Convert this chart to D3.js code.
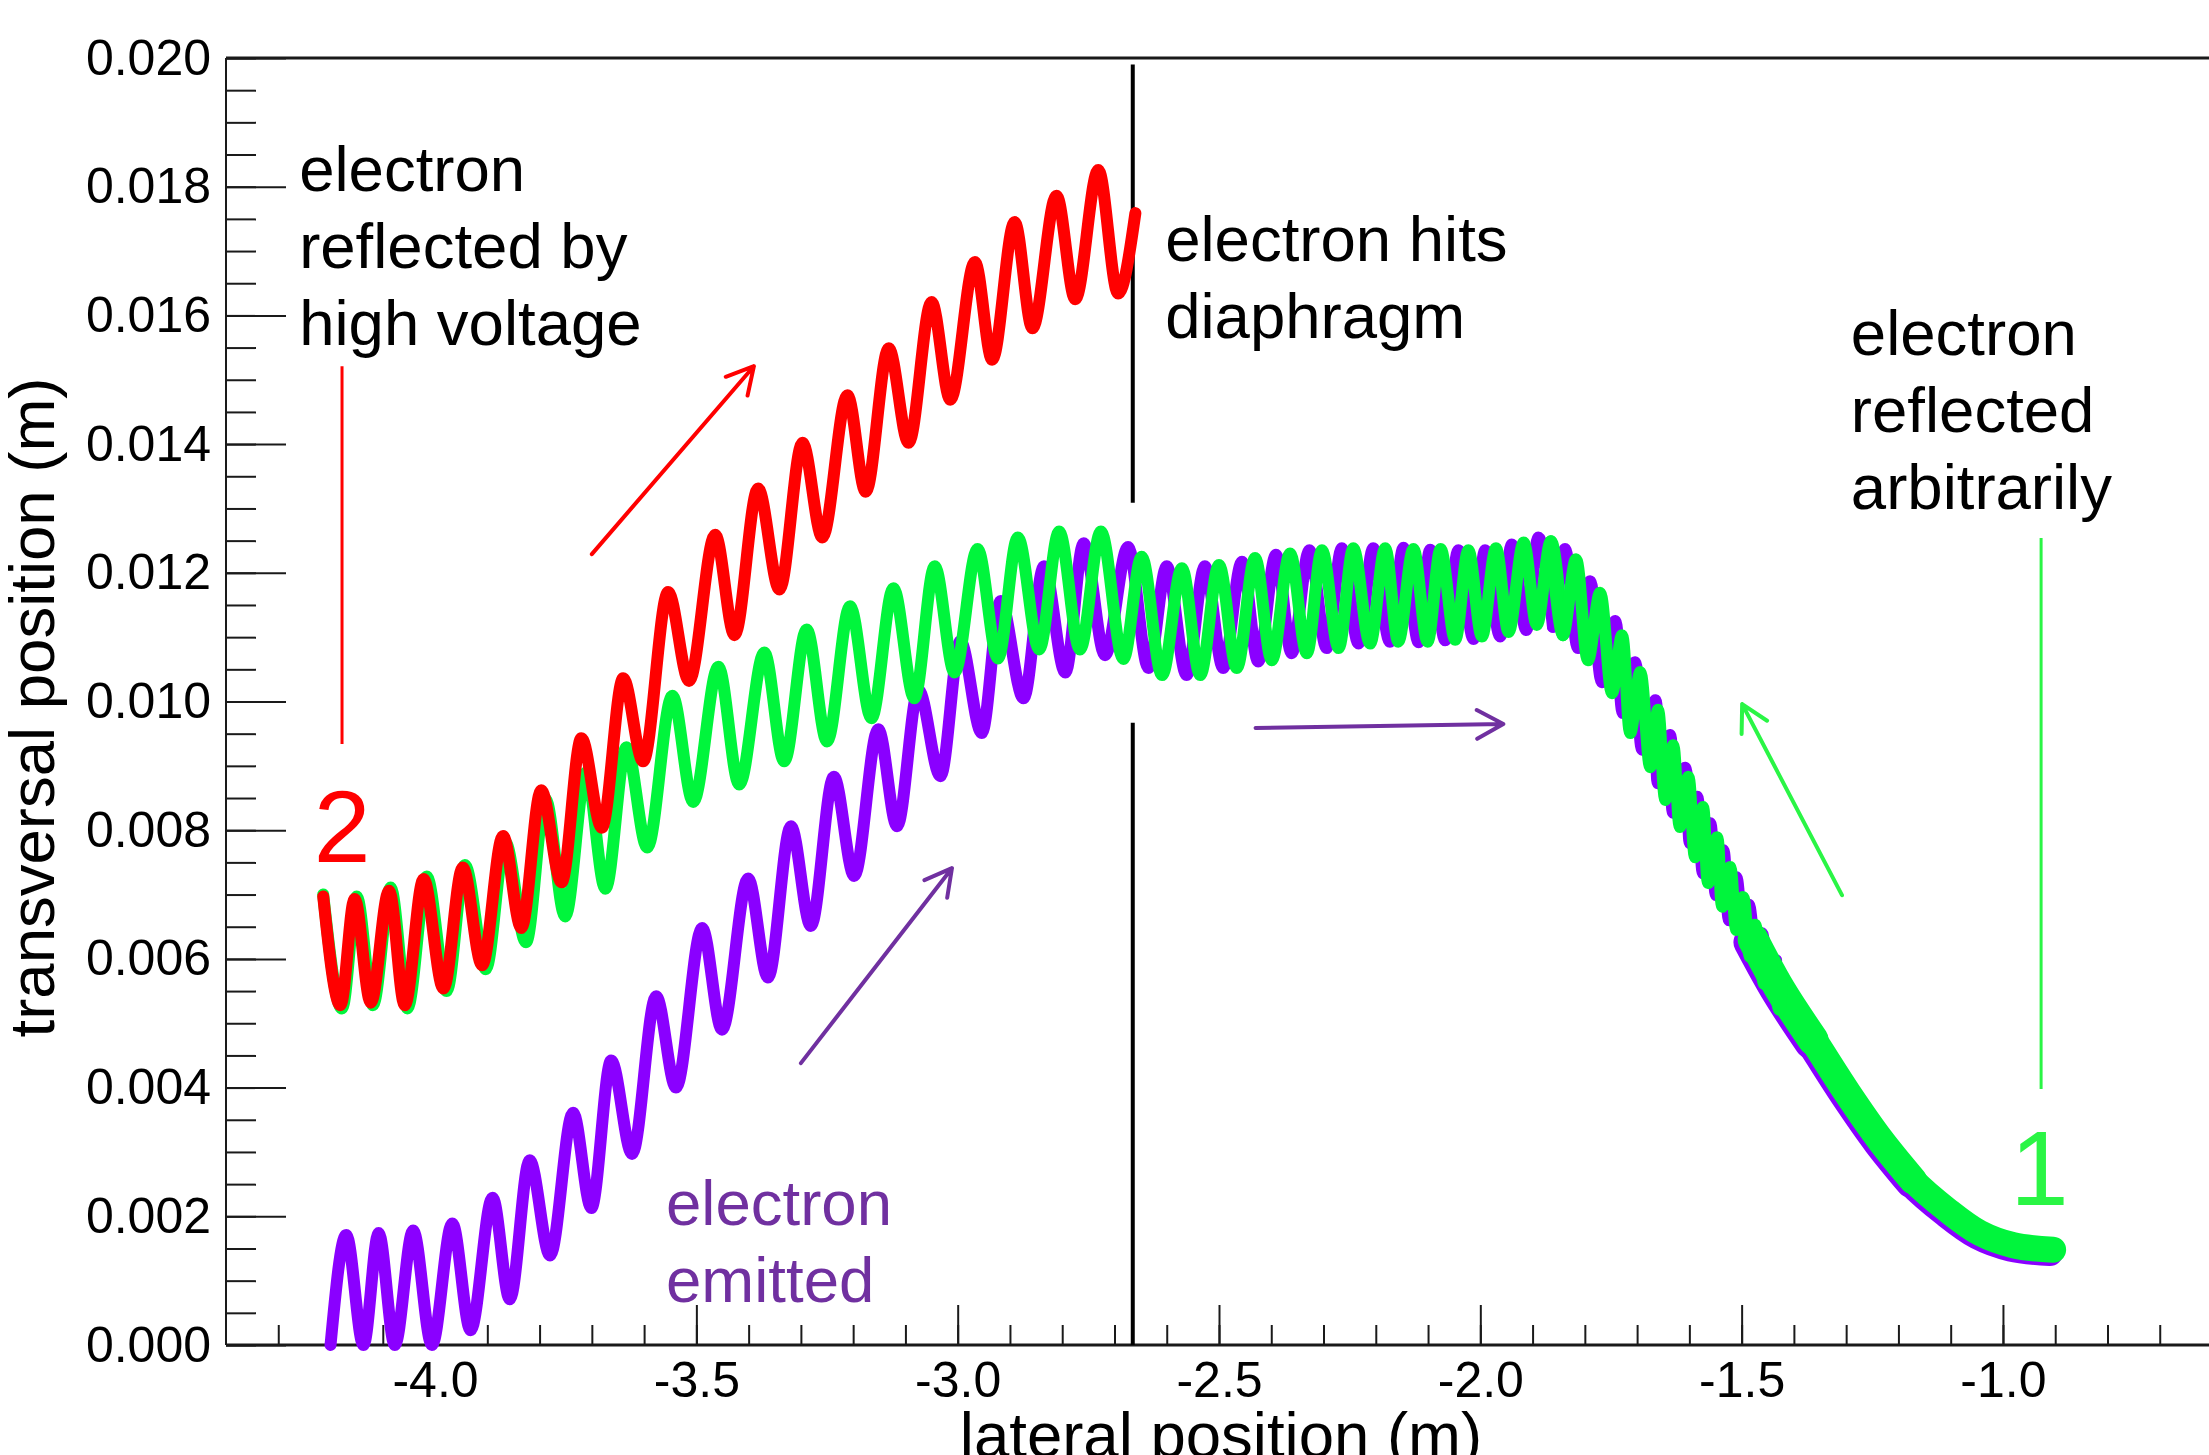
<!DOCTYPE html>
<html>
<head>
<meta charset="utf-8">
<script src="https://cdn.jsdelivr.net/npm/d3@7"></script>
<style>
  body { margin: 0; background: #fff; }
  text { font-family: "Liberation Sans", Arial, sans-serif; }
</style>
</head>
<body>
<div id="chart"></div>
<script>
// trajectory points [lateral position (m), transversal position (m)]
var emitted = [
  [-4.200, 0.00000], [-4.170, 0.00171], [-4.137, 0.00000], [-4.108, 0.00174], [-4.077, 0.00000],
  [-4.042, 0.00178], [-4.006, 0.00000], [-3.967, 0.00189], [-3.932, 0.00023], [-3.890, 0.00229],
  [-3.857, 0.00071], [-3.819, 0.00287], [-3.780, 0.00139], [-3.736, 0.00361], [-3.701, 0.00213],
  [-3.663, 0.00442], [-3.623, 0.00297], [-3.577, 0.00542], [-3.539, 0.00400], [-3.489, 0.00648],
  [-3.451, 0.00490], [-3.401, 0.00725], [-3.363, 0.00571], [-3.319, 0.00806], [-3.281, 0.00651],
  [-3.237, 0.00883], [-3.198, 0.00729], [-3.152, 0.00957], [-3.116, 0.00806], [-3.075, 0.01018],
  [-3.033, 0.00884], [-2.995, 0.01094], [-2.954, 0.00951], [-2.918, 0.01156], [-2.874, 0.01005],
  [-2.835, 0.01210], [-2.794, 0.01045], [-2.759, 0.01246], [-2.718, 0.01072], [-2.674, 0.01240],
  [-2.635, 0.01052], [-2.600, 0.01210], [-2.562, 0.01041], [-2.527, 0.01210], [-2.492, 0.01052],
  [-2.456, 0.01217], [-2.425, 0.01062], [-2.391, 0.01228], [-2.361, 0.01075], [-2.327, 0.01235],
  [-2.294, 0.01083], [-2.265, 0.01238], [-2.233, 0.01090], [-2.205, 0.01238], [-2.173, 0.01093],
  [-2.147, 0.01239], [-2.118, 0.01092], [-2.096, 0.01236], [-2.067, 0.01095], [-2.042, 0.01235],
  [-2.013, 0.01097], [-1.991, 0.01235], [-1.962, 0.01101], [-1.940, 0.01244], [-1.912, 0.01111],
  [-1.889, 0.01255], [-1.861, 0.01116], [-1.838, 0.01237], [-1.813, 0.01083], [-1.790, 0.01187],
  [-1.767, 0.01030], [-1.742, 0.01125], [-1.727, 0.00982], [-1.704, 0.01061], [-1.690, 0.00925],
  [-1.665, 0.01002], [-1.660, 0.00873], [-1.637, 0.00948], [-1.631, 0.00827], [-1.608, 0.00897],
  [-1.599, 0.00780], [-1.585, 0.00852], [-1.574, 0.00733], [-1.560, 0.00811], [-1.549, 0.00699],
  [-1.535, 0.00769], [-1.524, 0.00660], [-1.510, 0.00727], [-1.497, 0.00620], [-1.486, 0.00684],
  [-1.470, 0.00580], [-1.461, 0.00640], [-1.444, 0.00539], [-1.434, 0.00598]
];
var emittedTail = [
  [-1.486, 0.00626], [-1.432, 0.00547], [-1.369, 0.00469], [-1.304, 0.00387], [-1.241, 0.00314],
  [-1.178, 0.00251], [-1.113, 0.00205], [-1.050, 0.00169], [-0.986, 0.00150], [-0.910, 0.00143]
];

var reflected = [
  [-4.214, 0.00700], [-4.178, 0.00523], [-4.150, 0.00697], [-4.119, 0.00528], [-4.085, 0.00711],
  [-4.053, 0.00523], [-4.016, 0.00728], [-3.978, 0.00550], [-3.943, 0.00746], [-3.903, 0.00584],
  [-3.866, 0.00782], [-3.826, 0.00626], [-3.789, 0.00849], [-3.751, 0.00666], [-3.711, 0.00890],
  [-3.674, 0.00709], [-3.634, 0.00929], [-3.594, 0.00773], [-3.546, 0.01009], [-3.506, 0.00844],
  [-3.458, 0.01054], [-3.418, 0.00871], [-3.370, 0.01076], [-3.332, 0.00907], [-3.289, 0.01112],
  [-3.250, 0.00938], [-3.206, 0.01148], [-3.165, 0.00974], [-3.123, 0.01176], [-3.083, 0.01005],
  [-3.044, 0.01210], [-3.006, 0.01045], [-2.962, 0.01237], [-2.923, 0.01067], [-2.885, 0.01255],
  [-2.844, 0.01081], [-2.806, 0.01264], [-2.766, 0.01081], [-2.726, 0.01264], [-2.683, 0.01066],
  [-2.648, 0.01225], [-2.609, 0.01041], [-2.571, 0.01207], [-2.536, 0.01041], [-2.500, 0.01212],
  [-2.466, 0.01052], [-2.431, 0.01223], [-2.399, 0.01064], [-2.364, 0.01230], [-2.332, 0.01075],
  [-2.303, 0.01235], [-2.271, 0.01083], [-2.243, 0.01238], [-2.211, 0.01090], [-2.182, 0.01238],
  [-2.157, 0.01093], [-2.128, 0.01237], [-2.101, 0.01093], [-2.076, 0.01237], [-2.048, 0.01096],
  [-2.023, 0.01235], [-1.997, 0.01101], [-1.970, 0.01238], [-1.946, 0.01108], [-1.917, 0.01247],
  [-1.892, 0.01119], [-1.865, 0.01249], [-1.842, 0.01103], [-1.817, 0.01221], [-1.794, 0.01064],
  [-1.771, 0.01169], [-1.748, 0.01013], [-1.729, 0.01103], [-1.713, 0.00951], [-1.694, 0.01046],
  [-1.675, 0.00898], [-1.660, 0.00987], [-1.646, 0.00847], [-1.631, 0.00932], [-1.618, 0.00805],
  [-1.602, 0.00883], [-1.589, 0.00758], [-1.574, 0.00836], [-1.564, 0.00718], [-1.547, 0.00789],
  [-1.537, 0.00681], [-1.522, 0.00743], [-1.510, 0.00645], [-1.497, 0.00696], [-1.484, 0.00603],
  [-1.474, 0.00653], [-1.457, 0.00561], [-1.449, 0.00609], [-1.428, 0.00521], [-1.423, 0.00567]
];
var reflectedTail = [
  [-1.478, 0.00630], [-1.426, 0.00552], [-1.363, 0.00474], [-1.298, 0.00392], [-1.235, 0.00319],
  [-1.172, 0.00256], [-1.107, 0.00210], [-1.044, 0.00174], [-0.980, 0.00155], [-0.904, 0.00148]
];

var highVoltage = [
  [-4.214, 0.00697], [-4.181, 0.00528], [-4.154, 0.00693], [-4.123, 0.00532], [-4.088, 0.00706],
  [-4.058, 0.00528], [-4.022, 0.00724], [-3.984, 0.00554], [-3.947, 0.00742], [-3.910, 0.00590],
  [-3.870, 0.00791], [-3.835, 0.00648], [-3.797, 0.00862], [-3.758, 0.00719], [-3.720, 0.00943],
  [-3.681, 0.00804], [-3.640, 0.01036], [-3.602, 0.00907], [-3.554, 0.01170], [-3.514, 0.01032],
  [-3.464, 0.01259], [-3.427, 0.01103], [-3.382, 0.01331], [-3.341, 0.01174], [-3.297, 0.01402],
  [-3.259, 0.01255], [-3.211, 0.01476], [-3.176, 0.01326], [-3.132, 0.01549], [-3.094, 0.01402],
  [-3.050, 0.01621], [-3.014, 0.01469], [-2.967, 0.01683], [-2.934, 0.01531], [-2.891, 0.01745],
  [-2.857, 0.01580], [-2.811, 0.01786], [-2.775, 0.01625], [-2.731, 0.01826], [-2.693, 0.01634],
  [-2.660, 0.01759]
];

var xTicks = [-4.0, -3.5, -3.0, -2.5, -2.0, -1.5, -1.0];
var xTickLabels = ["-4.0", "-3.5", "-3.0", "-2.5", "-2.0", "-1.5", "-1.0"];
var yTicks = [0, 0.002, 0.004, 0.006, 0.008, 0.010, 0.012, 0.014, 0.016, 0.018, 0.020];
var yTickLabels = ["0.000", "0.002", "0.004", "0.006", "0.008", "0.010", "0.012", "0.014", "0.016", "0.018", "0.020"];

// diaphragm marker and annotation geometry, in data units
var diaphragmX = -2.665;
var diaphragmSpans = [[0.0199, 0.01309], [0.00967, 0.0]];
var redMarker = [[-4.178, 0.01521], [-4.178, 0.00934]];
var greenMarker = [[-0.927, 0.01254], [-0.927, 0.00398]];
var redArrow = [[-3.700, 0.01229], [-3.390, 0.01521]];
var emittedArrow = [[-3.300, 0.00438], [-3.011, 0.00741]];
var driftArrow = [[-2.430, 0.00959], [-1.956, 0.00965]];
var greenArrow = [[-1.308, 0.00699], [-1.499, 0.00996]];

var width = 2209, height = 1455;

var svg = d3.select("#chart").append("svg")
    .attr("width", width)
    .attr("height", height)
    .style("display", "block")
    .style("background", "#fff");

var x = d3.scaleLinear().domain([-4.4, -0.6]).range([226, 2212]);
var y = d3.scaleLinear().domain([0, 0.020]).range([1345, 58]);

var axisColor = "#1a1a1a";

// minor ticks
svg.append("g")
    .attr("transform", "translate(" + x(-4.4) + ",0)")
    .call(d3.axisLeft(y).tickValues(y.ticks(40)).tickSize(-30).tickFormat(""))
    .call(g => g.select(".domain").remove())
    .selectAll("line").attr("stroke", axisColor).attr("stroke-width", 2);

svg.append("g")
    .attr("transform", "translate(0," + y(0) + ")")
    .call(d3.axisBottom(x).tickValues(x.ticks(38).filter(d => d > -4.35)).tickSize(-20).tickFormat(""))
    .call(g => g.select(".domain").remove())
    .selectAll("line").attr("stroke", axisColor).attr("stroke-width", 2);

// major ticks + labels
var yAxis = svg.append("g")
    .attr("transform", "translate(" + x(-4.4) + ",0)")
    .call(d3.axisLeft(y).tickValues(yTicks).tickSize(-60).tickPadding(15)
        .tickFormat((d, i) => yTickLabels[i]))
    .call(g => g.select(".domain").remove());
yAxis.selectAll("line").attr("stroke", axisColor).attr("stroke-width", 2);
yAxis.selectAll("text").attr("font-size", 50).attr("fill", "#000")
    .attr("font-family", "'Liberation Sans', Arial, sans-serif");

var xAxis = svg.append("g")
    .attr("transform", "translate(0," + y(0) + ")")
    .call(d3.axisBottom(x).tickValues(xTicks).tickSize(-40).tickPadding(16)
        .tickFormat((d, i) => xTickLabels[i]))
    .call(g => g.select(".domain").remove());
xAxis.selectAll("line").attr("stroke", axisColor).attr("stroke-width", 2);
xAxis.selectAll("text").attr("font-size", 50).attr("fill", "#000")
    .attr("font-family", "'Liberation Sans', Arial, sans-serif");

// frame
svg.append("line").attr("x1", x(-4.4)).attr("x2", width).attr("y1", y(0.020)).attr("y2", y(0.020))
    .attr("stroke", axisColor).attr("stroke-width", 3);
svg.append("line").attr("x1", x(-4.4)).attr("x2", width).attr("y1", y(0)).attr("y2", y(0))
    .attr("stroke", axisColor).attr("stroke-width", 3);
svg.append("line").attr("x1", x(-4.4)).attr("x2", x(-4.4)).attr("y1", y(0.020)).attr("y2", y(0))
    .attr("stroke", axisColor).attr("stroke-width", 2);

// axis titles
svg.append("text")
    .attr("transform", "translate(54," + ((y(0) + y(0.020)) / 2 + 6) + ") rotate(-90)")
    .attr("text-anchor", "middle")
    .attr("font-size", 63.5)
    .text("transversal position (m)");

svg.append("text")
    .attr("x", (x(-2.5) + 2))
    .attr("y", 1457)
    .attr("text-anchor", "middle")
    .attr("font-size", 63.5)
    .text("lateral position (m)");

// diaphragm
diaphragmSpans.forEach(function(s) {
    svg.append("line")
        .attr("x1", x(diaphragmX)).attr("x2", x(diaphragmX))
        .attr("y1", y(s[0])).attr("y2", y(s[1]))
        .attr("stroke", "#000").attr("stroke-width", 4);
});

// trajectories: smooth waves on the drift section, a tighter spline on the steep descent
var waveLine = d3.line()
    .x(d => x(d[0]))
    .y(d => y(d[1]))
    .curve(d3.curveMonotoneX);
var descentLine = d3.line()
    .x(d => x(d[0]))
    .y(d => y(d[1]))
    .curve(d3.curveCatmullRom.alpha(0.5));

var purple = "#8a00ff", green = "#00f53c", red = "#ff0000";
var descentStart = -1.87;

function trace(data, color, w, gen) {
    svg.append("path")
        .datum(data)
        .attr("fill", "none")
        .attr("stroke", color)
        .attr("stroke-width", w)
        .attr("stroke-linecap", "round")
        .attr("stroke-linejoin", "round")
        .attr("d", gen);
}

function trajectory(data, tail, color) {
    // the slow end of the trajectory is a dense band, so it gets a wider, tapering stroke
    trace(tail, color, 26, descentLine);
    trace(tail.slice(0, 6), color, 28, descentLine);
    trace(tail.slice(0, 3), color, 31, descentLine);
    trace(data.filter(d => d[0] <= descentStart + 0.03), color, 12, waveLine);
    trace(data.filter(d => d[0] >= descentStart), color, 12, descentLine);
}

trajectory(emitted, emittedTail, purple);
trajectory(reflected, reflectedTail, green);
trace(highVoltage, red, 12, waveLine);

// annotation markers and arrows
var annotGreen = "#2af545", annotPurple = "#7030a0";

function marker(pts, color, w) {
    svg.append("line")
        .attr("x1", x(pts[0][0])).attr("y1", y(pts[0][1]))
        .attr("x2", x(pts[1][0])).attr("y2", y(pts[1][1]))
        .attr("stroke", color).attr("stroke-width", w);
}
marker(redMarker, red, 3);
marker(greenMarker, annotGreen, 3);

function arrow(pts, color) {
    var x1 = x(pts[0][0]), y1 = y(pts[0][1]), x2 = x(pts[1][0]), y2 = y(pts[1][1]);
    var a = Math.atan2(y2 - y1, x2 - x1), len = 30, spread = 0.5;
    svg.append("path")
        .attr("d", "M" + x1 + "," + y1 + "L" + x2 + "," + y2 +
            "M" + (x2 - len * Math.cos(a - spread)) + "," + (y2 - len * Math.sin(a - spread)) +
            "L" + x2 + "," + y2 +
            "L" + (x2 - len * Math.cos(a + spread)) + "," + (y2 - len * Math.sin(a + spread)))
        .attr("fill", "none")
        .attr("stroke", color)
        .attr("stroke-width", 4)
        .attr("stroke-linecap", "round")
        .attr("stroke-linejoin", "round");
}
arrow(redArrow, red);
arrow(emittedArrow, annotPurple);
arrow(driftArrow, annotPurple);
arrow(greenArrow, annotGreen);

// text annotations
function note(lines, at, color, size) {
    var t = svg.append("text")
        .attr("x", x(at[0]))
        .attr("y", y(at[1]))
        .attr("font-size", size)
        .attr("fill", color);
    lines.forEach(function(l, i) {
        t.append("tspan").attr("x", x(at[0])).attr("dy", i === 0 ? 0 : 77).text(l);
    });
}
note(["electron", "reflected by", "high voltage"], [-4.260, 0.01794], "#000", 63.5);
note(["electron hits", "diaphragm"], [-2.603, 0.01685], "#000", 63.5);
note(["electron", "reflected", "arbitrarily"], [-1.291, 0.01538], "#000", 63.5);
note(["electron", "emitted"], [-3.558, 0.00187], annotPurple, 63.5);
note(["2"], [-4.232, 0.00751], red, 102);
note(["1"], [-0.986, 0.00218], annotGreen, 105);
</script>
</body>
</html>
